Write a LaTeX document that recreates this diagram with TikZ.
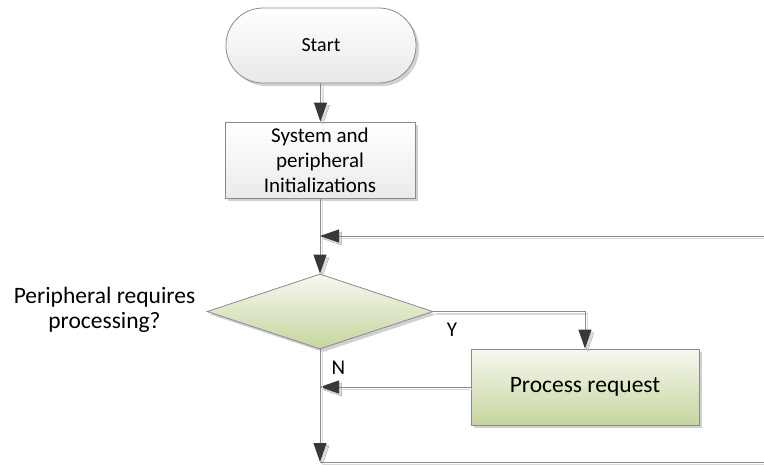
\documentclass[tikz,border=0pt]{standalone}
\usepackage{fontspec}
\setmainfont{Carlito}
\usetikzlibrary{arrows.meta,shadows,shapes.geometric}
\definecolor{linegray}{HTML}{8A8A8A}
\definecolor{shadowgray}{HTML}{DADADA}
\definecolor{tipgray}{HTML}{383838}
\definecolor{greentop}{HTML}{F6F8EF}
\definecolor{greenbot}{HTML}{C6D59E}
\tikzset{
  boxshadow/.style={drop shadow={shadow xshift=3pt,shadow yshift=-3pt,fill=black!18,opacity=1}},
  termbox/.style={draw=linegray,line width=0.8pt,top color=white,bottom color=black!9,
    minimum width=190pt,minimum height=75pt,rounded corners=37pt,boxshadow,
    font=\fontsize{20}{24}\selectfont},
  procbox/.style={draw=linegray,line width=0.8pt,top color=white,bottom color=black!8,
    minimum width=190pt,minimum height=76pt,boxshadow,align=center,
    font=\fontsize{21}{25}\selectfont},
  decbox/.style={diamond,draw=linegray,line width=0.8pt,top color=greentop,bottom color=greenbot,
    minimum width=226pt,minimum height=75pt,aspect=3,inner sep=0pt,boxshadow},
  greenbox/.style={draw=linegray,line width=0.8pt,top color=greentop,bottom color=greenbot,
    minimum width=228pt,minimum height=76pt,boxshadow,font=\fontsize{23.5}{28}\selectfont},
  conn/.style={draw=linegray,line width=0.9pt,
    preaction={draw=shadowgray,line width=1.2pt,transform canvas={shift={(2.5pt,-2.5pt)}}}},
  arr/.style={conn,-{Triangle[length=19pt,width=13pt,color=tipgray]},
    preaction={-{Triangle[length=19pt,width=13pt,color=shadowgray]},draw=shadowgray,line width=1.2pt,
      transform canvas={shift={(2.5pt,-2.5pt)}}}},
  lbl/.style={font=\fontsize{21}{25}\selectfont,inner sep=0pt}
}
\begin{document}
\begin{tikzpicture}[x=1pt,y=-1pt]
\useasboundingbox (0,0) rectangle (764,464);
\node[termbox] (start) at (321,45.5) {Start};
\node[procbox] (init) at (320,160) {System and\\peripheral\\Initializations};
\node[decbox] (dec) at (320,311.5) {};
\node[font=\fontsize{23.5}{25.5}\selectfont,align=center,inner sep=0pt] (q) at (104.5,310) {Peripheral requires\\processing?};
\node[greenbox] (proc) at (585,387) {Process request};
\coordinate (loopR) at (764,236);
\coordinate (loopJ) at (320,236);
\coordinate (ycorner) at (585,311.5);
\coordinate (nJ) at (320,387);
\coordinate (bot) at (320,462);
\coordinate (botR) at (764,462);
\draw[arr] (start) -- (init);
\draw[conn] (init) -- (loopJ);
\draw[arr] (loopJ) -- (dec.north);
\draw[arr] (loopR) -- (loopJ);
\draw[arr] (dec.east) -- (ycorner) -- (proc.north);
\draw[arr] (proc.west) -- (nJ);
\draw[arr] (dec.south) -- (bot);
\draw[conn] (bot) -- (botR);
\node[lbl] (ylab) at (452,330) {Y};
\node[lbl] (nlab) at (338.5,368) {N};
\end{tikzpicture}
\end{document}
